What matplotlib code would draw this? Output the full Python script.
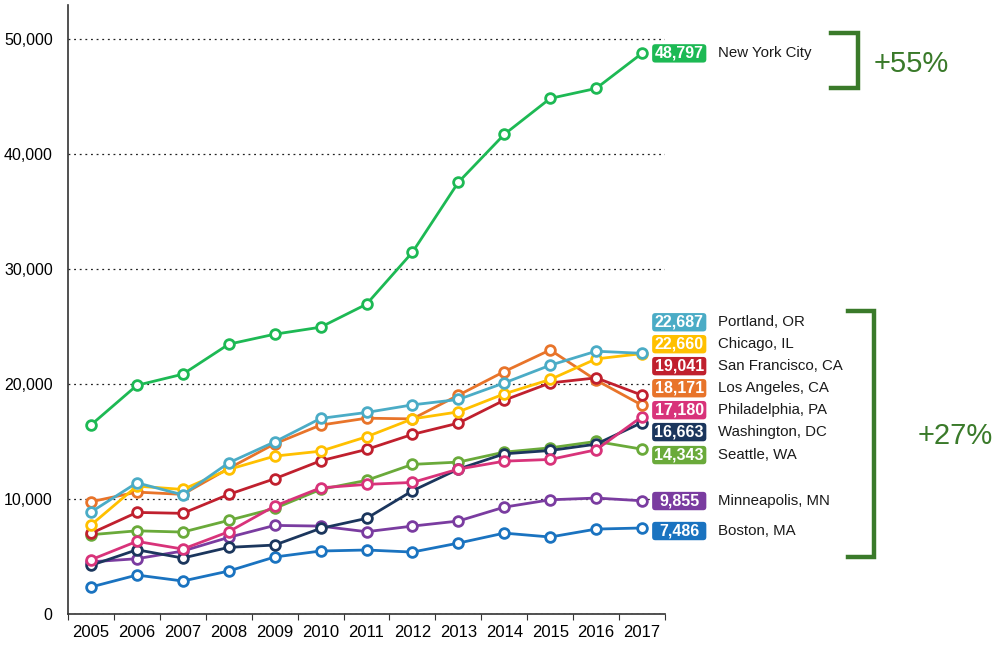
import matplotlib
matplotlib.use("Agg")
import matplotlib.pyplot as plt
from matplotlib.lines import Line2D
from matplotlib.patches import FancyBboxPatch

plt.rcParams['font.family'] = ['Liberation Sans', 'DejaVu Sans']

years = [str(y) for y in range(2005, 2018)]

nyc = [16450, 19900, 20870, 23480, 24350, 24960, 26960, 31480, 37570, 41740, 44870, 45740, 48797]
portland = [8870, 11420, 10370, 13160, 14980, 17020, 17540, 18200, 18670, 20110, 21650, 22870, 22687]
chicago = [7740, 11130, 10840, 12580, 13740, 14170, 15420, 16980, 17590, 19160, 20410, 22200, 22660]
san_fran = [7020, 8840, 8760, 10410, 11770, 13330, 14320, 15630, 16610, 18610, 20110, 20550, 19041]
los_angeles = [9770, 10610, 10410, 12670, 14810, 16440, 17040, 16980, 19040, 21100, 22980, 20350, 18171]
philadelphia = [4720, 6320, 5650, 7160, 9390, 10980, 11280, 11450, 12610, 13300, 13450, 14290, 17180]
washington = [4230, 5590, 4870, 5800, 6000, 7450, 8320, 10720, 12610, 13940, 14230, 14780, 16663]
seattle = [6900, 7240, 7130, 8150, 9190, 10840, 11630, 13020, 13220, 14090, 14460, 15020, 14343]
minneapolis = [4540, 4810, 5480, 6670, 7710, 7650, 7160, 7650, 8090, 9300, 9940, 10090, 9855]
boston = [2350, 3390, 2870, 3740, 4960, 5480, 5570, 5390, 6170, 7040, 6700, 7390, 7486]

cities = ['New York City', 'Portland, OR', 'Chicago, IL', 'San Francisco, CA', 'Los Angeles, CA',
          'Philadelphia, PA', 'Washington, DC', 'Seattle, WA', 'Minneapolis, MN', 'Boston, MA']
series = [nyc, portland, chicago, san_fran, los_angeles, philadelphia, washington, seattle, minneapolis, boston]
colors = ['#1db954', '#4bacc6', '#ffc000', '#c0202e', '#e8742a', '#d8337a', '#1b365d', '#6aaa3a', '#7a3ca0', '#1a73c0']
# label heights (where the value boxes sit on the right)
label_y = [48790, 25390, 23480, 21570, 19650, 17740, 15830, 13830, 9830, 7220]

fig = plt.figure(figsize=(9.94, 6.47), dpi=100)
ax = fig.add_axes([68 / 994, 33 / 647, 597 / 994, 609 / 647])
ax.set_xlim(-0.5, 12.5)
ax.set_ylim(0, 53000)

x = list(range(len(years)))
order = [9, 8, 7, 6, 5, 3, 4, 2, 1, 0]
for i in order:
    ax.plot(x, series[i], color=colors[i], lw=2, marker='o', ms=7, mfc='white',
            mec=colors[i], mew=2, zorder=3 + (10 - i) * 0.1, clip_on=False)

# value boxes all the same size: x in category units, y in data units
box_l, box_r, box_h = 12.22, 13.40, 1600
aspect = (53000 / 609) / (13 / 597)
for i in range(len(cities)):
    val = series[i][-1]
    ax.add_patch(FancyBboxPatch((box_l, label_y[i] - box_h / 2), box_r - box_l, box_h,
                                boxstyle='round,pad=0,rounding_size=0.07', mutation_aspect=aspect,
                                fc=colors[i], ec='none', clip_on=False, zorder=5))
    ax.text((box_l + box_r) / 2, label_y[i], f'{val:,}', color='white', fontsize=11.5,
            fontweight='bold', ha='center', va='center', clip_on=False, zorder=6)
    ax.text(13.66, label_y[i], cities[i], color='#1a1a1a', fontsize=10.8,
            ha='left', va='center', clip_on=False)

ax.set_xticks([i - 0.5 for i in range(14)], minor=False)
ax.set_xticklabels([])
ax.set_xticks(x, minor=True)
ax.set_xticklabels(years, minor=True, fontsize=12)
ax.tick_params(axis='x', which='major', length=4, width=0.8, color='#333333')
ax.tick_params(axis='x', which='minor', length=0, pad=8)
ax.set_yticks([0, 10000, 20000, 30000, 40000, 50000])
ax.set_yticklabels(['0', '10,000', '20,000', '30,000', '40,000', '50,000'], fontsize=11.5)
ax.tick_params(axis='y', length=0, pad=11)
ax.yaxis.grid(True, linestyle=(0, (1.5, 3)), color='#222222', lw=0.9)
ax.set_axisbelow(True)
for s in ['top', 'right']:
    ax.spines[s].set_visible(False)
for s in ['left', 'bottom']:
    ax.spines[s].set_color('#333333')
    ax.spines[s].set_linewidth(1.2)

# brackets
bcol = '#3a7a2a'
ax.add_line(Line2D([16.12, 16.71, 16.71, 16.12], [50520, 50520, 45740, 45740], color=bcol,
                   lw=3.2, clip_on=False, solid_joinstyle='miter'))
ax.add_line(Line2D([16.49, 17.06, 17.06, 16.49], [26350, 26350, 4960, 4960], color=bcol,
                   lw=3.2, clip_on=False, solid_joinstyle='miter'))
ax.text(17.86, 47900, '+55%', color=bcol, fontsize=21, ha='center', va='center', clip_on=False)
ax.text(18.82, 15500, '+27%', color=bcol, fontsize=21, ha='center', va='center', clip_on=False)

fig.savefig('out.png', dpi=100)
